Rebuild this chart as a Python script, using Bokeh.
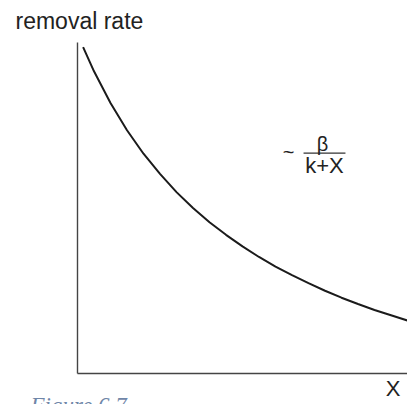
from bokeh.plotting import figure
from bokeh.models import Label
from bokeh.embed import file_html
from bokeh.resources import INLINE

# Removal rate as a function of X (arbitrary units)
x_values = [0.17, 0.5, 1.0, 1.5, 2.0, 2.5, 3.0, 3.5, 4.0, 4.5, 5.0,
            5.5, 6.0, 6.5, 7.0, 7.5, 8.0, 8.5, 9.0, 9.5, 10.0]
removal_rate = [9.86, 9.13, 8.17, 7.35, 6.64, 6.03, 5.48, 5.00, 4.57, 4.19, 3.84,
                3.52, 3.23, 2.97, 2.73, 2.50, 2.29, 2.10, 1.92, 1.76, 1.60]

# extent of the two axis lines
x_max = 10.0
y_max = 10.0

y_label = "removal rate"
x_label = "X"
caption = "Figure 6.7"

FONT = "Liberation Sans"
INK = "#222222"

# The frame fills the whole canvas; the margins around the axes are
# part of the data ranges so the labels outside the axes stay visible.
p = figure(width=407, height=404,
           x_range=(-2.3333, 10.0), y_range=(-0.9366, 11.269),
           output_backend="svg", toolbar_location=None,
           x_axis_type=None, y_axis_type=None,
           min_border=0)

p.outline_line_color = None
p.grid.visible = False
p.background_fill_color = "white"
p.border_fill_color = "white"

# axis lines
p.segment(x0=[0, 0], y0=[0, 0], x1=[0, x_max], y1=[y_max, 0],
          line_color="#444444", line_width=1.4)

# removal-rate curve
p.line(x_values, removal_rate, line_color="#1b1b1b", line_width=2)

# fraction bar of the ~ beta/(k+X) annotation
p.segment(x0=[6.85], y0=[6.66], x1=[8.12], y1=[6.66],
          line_color="#333333", line_width=1.3)


def screen_label(text, sx, sy, size, align="left", font=FONT, color=INK,
                 style="normal"):
    p.add_layout(Label(x=sx, y=sy, x_units="screen", y_units="screen",
                       text=text, text_font=font, text_font_size=size,
                       text_align=align, text_baseline="middle",
                       text_color=color, text_font_style=style))


screen_label(y_label, 15, 383.4, "23px")
screen_label(x_label, 400, 16, "22px", align="right")
screen_label("~", 288, 253, "20px", align="center")
screen_label("\u03b2", 322, 261, "20px", align="center")
screen_label("k+X", 324, 239.5, "22px", align="center")
screen_label(caption, 30, -1, "23px", font="Liberation Serif",
             color="#6f86a8", style="italic")

open("out.html", "w").write(file_html(p, INLINE))
